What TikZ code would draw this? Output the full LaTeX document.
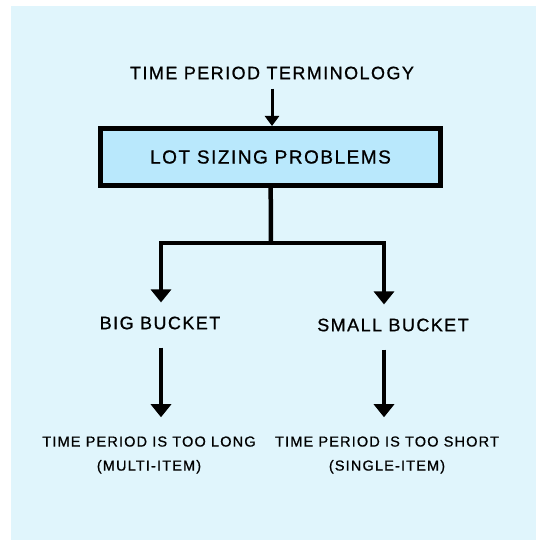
\documentclass[tikz,border=0pt]{standalone}
\usepackage{fontspec}
\setmainfont{Liberation Sans}[LetterSpace=8, FakeBold=0.8]
\usetikzlibrary{arrows.meta}
\definecolor{panelblue}{HTML}{E0F5FC}
\definecolor{boxblue}{HTML}{B9E8FC}

\begin{document}
\begin{tikzpicture}[x=1pt,y=-1pt]

      \useasboundingbox (0,0) rectangle (536,540);
      \fill[panelblue] (11,6) rectangle (536,540);

      \begin{scope}[every node/.style={inner sep=0pt, align=center}]
        \node[font=\fontsize{18}{20}\selectfont] (term) at (272,73) {TIME PERIOD TERMINOLOGY};
        \node[draw, fill=boxblue, line width=5pt, minimum width=340pt, minimum height=57pt,
              font=\fontsize{19}{21}\selectfont] (lot) at (270.5,157) {LOT SIZING PROBLEMS};
        \node[font=\fontsize{18}{20}\selectfont] (big)   at (160,323) {BIG BUCKET};
        \node[font=\fontsize{18}{20}\selectfont] (small) at (393,325) {SMALL BUCKET};
        \node[font=\fontsize{14.5}{24}\selectfont] (long)  at (149,455) {TIME PERIOD IS TOO LONG\\(MULTI-ITEM)};
        \node[font=\fontsize{14.5}{24}\selectfont] (short) at (387,455) {TIME PERIOD IS TOO SHORT\\(SINGLE-ITEM)};
      \end{scope}

      \coordinate (split) at (271,243);
      \coordinate (lft)   at (161,243);
      \coordinate (rgt)   at (384,243);

      \begin{scope}[line width=4.5pt, -{Triangle[length=13pt,width=20pt]}]
        \draw[line width=3pt, -{Triangle[length=10pt,width=14pt]}, shorten <=9pt] (term) -- (term |- lot.north);
        \draw[-] (lot) -- (split);
        \draw[-, line cap=rect] (lft) -- (rgt);
        \draw[shorten >=14pt] (lft) -- (lft |- big.north);
        \draw[shorten >=14pt] (rgt) -- (rgt |- small.north);
        \draw[shorten <=18pt, shorten >=19pt] (lft |- big.south) -- (lft |- long.north);
        \draw[shorten <=18pt, shorten >=19pt] (rgt |- small.south) -- (rgt |- short.north);
      \end{scope}

    \end{tikzpicture}
\end{document}
